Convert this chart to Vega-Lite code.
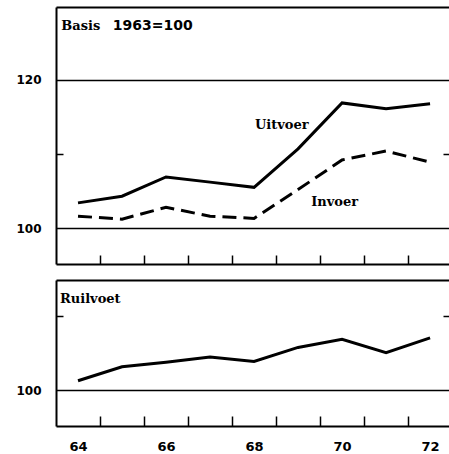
{
  "$schema": "https://vega.github.io/schema/vega-lite/v6.json",
  "padding": {"left": 15, "top": 7, "right": 0, "bottom": 0},
  "bounds": "flush",
  "spacing": 16,
  "background": "white",
  "config": {
    "view": {"stroke": null},
    "axis": {
      "domainColor": "black",
      "domainWidth": 2,
      "tickColor": "black",
      "tickWidth": 1.5,
      "labelColor": "black",
      "labelFont": "DejaVu Sans",
      "labelFontWeight": "bold",
      "labelFontSize": 12,
      "gridColor": "black",
      "gridWidth": 1.5,
      "title": null
    }
  },
  "datasets": {
    "reeksen": [
      {"jaar": 64, "reeks": "Uitvoer", "index": 103.4},
      {"jaar": 65, "reeks": "Uitvoer", "index": 104.3},
      {"jaar": 66, "reeks": "Uitvoer", "index": 106.9},
      {"jaar": 67, "reeks": "Uitvoer", "index": 106.2},
      {"jaar": 68, "reeks": "Uitvoer", "index": 105.5},
      {"jaar": 69, "reeks": "Uitvoer", "index": 110.7},
      {"jaar": 70, "reeks": "Uitvoer", "index": 116.9},
      {"jaar": 71, "reeks": "Uitvoer", "index": 116.1},
      {"jaar": 72, "reeks": "Uitvoer", "index": 116.8},
      {"jaar": 64, "reeks": "Invoer", "index": 101.6},
      {"jaar": 65, "reeks": "Invoer", "index": 101.2},
      {"jaar": 66, "reeks": "Invoer", "index": 102.8},
      {"jaar": 67, "reeks": "Invoer", "index": 101.6},
      {"jaar": 68, "reeks": "Invoer", "index": 101.3},
      {"jaar": 69, "reeks": "Invoer", "index": 105.2},
      {"jaar": 70, "reeks": "Invoer", "index": 109.2},
      {"jaar": 71, "reeks": "Invoer", "index": 110.4},
      {"jaar": 72, "reeks": "Invoer", "index": 108.9},
      {"jaar": 64, "reeks": "Ruilvoet", "index": 101.3},
      {"jaar": 65, "reeks": "Ruilvoet", "index": 103.2},
      {"jaar": 66, "reeks": "Ruilvoet", "index": 103.8},
      {"jaar": 67, "reeks": "Ruilvoet", "index": 104.5},
      {"jaar": 68, "reeks": "Ruilvoet", "index": 103.9},
      {"jaar": 69, "reeks": "Ruilvoet", "index": 105.8},
      {"jaar": 70, "reeks": "Ruilvoet", "index": 106.9},
      {"jaar": 71, "reeks": "Ruilvoet", "index": 105.1},
      {"jaar": 72, "reeks": "Ruilvoet", "index": 107.1}
    ],
    "een": [{}]
  },
  "vconcat": [
    {
      "width": 393,
      "height": 257,
      "layer": [
        {
          "data": {"name": "reeksen"},
          "transform": [{"filter": "datum.reeks === 'Uitvoer'"}],
          "mark": {"type": "line", "color": "black", "strokeWidth": 3},
          "encoding": {
            "x": {
              "field": "jaar", "type": "quantitative",
              "scale": {"domain": [63.5, 72.43], "nice": false, "zero": false},
              "axis": {"orient": "bottom", "values": [64.5, 65.5, 66.5, 67.5, 68.5, 69.5, 70.5, 71.5], "labels": false, "tickSize": -9, "grid": false}
            },
            "y": {
              "field": "index", "type": "quantitative",
              "scale": {"domain": [95.14, 129.86], "nice": false, "zero": false},
              "axis": {
                "orient": "left", "values": [100, 110, 120], "grid": true,
                "gridOpacity": {"condition": {"test": "datum.value === 110", "value": 0}, "value": 1},
                "tickOpacity": {"condition": {"test": "datum.value === 110", "value": 1}, "value": 0},
                "labelExpr": "datum.value === 110 ? '' : format(datum.value, 'd')",
                "tickSize": -7, "labelPadding": 22
              }
            }
          }
        },
        {
          "data": {"name": "reeksen"},
          "transform": [{"filter": "datum.reeks === 'Invoer'"}],
          "mark": {"type": "line", "color": "black", "strokeWidth": 3, "strokeDash": [14, 7]},
          "encoding": {
            "x": {
              "field": "jaar", "type": "quantitative",
              "axis": {"orient": "top", "ticks": false, "labels": false, "grid": false}
            },
            "y": {
              "field": "index", "type": "quantitative",
              "axis": {"orient": "right", "values": [110], "domain": false, "labels": false, "grid": false, "tickSize": -6}
            }
          }
        },
        {
          "data": {"name": "een"},
          "mark": {"type": "text", "text": "Basis", "font": "DejaVu Serif", "fontWeight": "bold", "fontSize": 13, "align": "left", "baseline": "alphabetic", "color": "black"},
          "encoding": {
            "x": {"datum": 63.62, "type": "quantitative", "axis": null},
            "y": {"datum": 126.8, "type": "quantitative", "axis": null}
          }
        },
        {
          "data": {"name": "een"},
          "mark": {"type": "text", "text": "1963=100", "font": "DejaVu Sans", "fontWeight": "bold", "fontSize": 14, "align": "left", "baseline": "alphabetic", "color": "black"},
          "encoding": {
            "x": {"datum": 64.79, "type": "quantitative", "axis": null},
            "y": {"datum": 126.8, "type": "quantitative", "axis": null}
          }
        },
        {
          "data": {"name": "een"},
          "mark": {"type": "text", "text": "Uitvoer", "font": "DejaVu Serif", "fontWeight": "bold", "fontSize": 13, "align": "left", "baseline": "alphabetic", "color": "black"},
          "encoding": {
            "x": {"datum": 68.02, "type": "quantitative", "axis": null},
            "y": {"datum": 113.4, "type": "quantitative", "axis": null}
          }
        },
        {
          "data": {"name": "een"},
          "mark": {"type": "text", "text": "Invoer", "font": "DejaVu Serif", "fontWeight": "bold", "fontSize": 13, "align": "left", "baseline": "alphabetic", "color": "black"},
          "encoding": {
            "x": {"datum": 69.3, "type": "quantitative", "axis": null},
            "y": {"datum": 103.0, "type": "quantitative", "axis": null}
          }
        }
      ],
      "resolve": {"axis": {"x": "independent", "y": "independent"}}
    },
    {
      "width": 393,
      "height": 146,
      "layer": [
        {
          "data": {"name": "reeksen"},
          "transform": [{"filter": "datum.reeks === 'Ruilvoet'"}],
          "mark": {"type": "line", "color": "black", "strokeWidth": 3},
          "encoding": {
            "x": {
              "field": "jaar", "type": "quantitative",
              "scale": {"domain": [63.5, 72.43], "nice": false, "zero": false},
              "axis": {
                "orient": "bottom",
                "values": [64, 64.5, 65.5, 66, 66.5, 67.5, 68, 68.5, 69.5, 70, 70.5, 71.5, 72],
                "tickOpacity": {"condition": {"test": "datum.value % 1 !== 0", "value": 1}, "value": 0},
                "labelExpr": "datum.value % 2 === 0 ? format(datum.value, 'd') : ''",
                "labelOverlap": false, "labelFlush": false, "labelFontSize": 13,
                "tickSize": -10, "labelPadding": 24, "grid": false
              }
            },
            "y": {
              "field": "index", "type": "quantitative",
              "scale": {"domain": [95.2, 114.9], "nice": false, "zero": false},
              "axis": {
                "orient": "left", "values": [100, 110], "grid": true,
                "gridOpacity": {"condition": {"test": "datum.value === 110", "value": 0}, "value": 1},
                "tickOpacity": {"condition": {"test": "datum.value === 110", "value": 1}, "value": 0},
                "labelExpr": "datum.value === 110 ? '' : format(datum.value, 'd')",
                "tickSize": -7, "labelPadding": 22
              }
            }
          }
        },
        {
          "data": {"name": "een"},
          "mark": {"type": "text", "text": "Ruilvoet", "font": "DejaVu Serif", "fontWeight": "bold", "fontSize": 13, "align": "left", "baseline": "alphabetic", "color": "black"},
          "encoding": {
            "x": {
              "datum": 63.59, "type": "quantitative",
              "axis": {"orient": "top", "ticks": false, "labels": false, "grid": false}
            },
            "y": {
              "datum": 111.8, "type": "quantitative",
              "axis": {"orient": "right", "values": [110], "domain": false, "labels": false, "grid": false, "tickSize": -6}
            }
          }
        }
      ],
      "resolve": {"axis": {"x": "independent", "y": "independent"}}
    }
  ]
}
